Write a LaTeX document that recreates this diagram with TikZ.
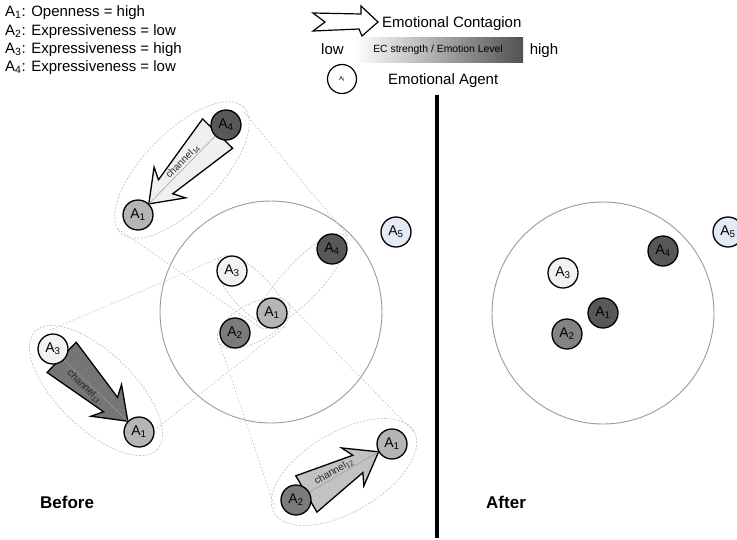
\documentclass[tikz,border=0pt]{standalone}
\usepackage{fontspec}
\setmainfont{Liberation Sans}
\usetikzlibrary{calc}
\definecolor{ellc}{HTML}{C4C4C4}
\definecolor{circc}{HTML}{9A9A9A}
\definecolor{gA}{HTML}{B5B5B5}
\definecolor{gB}{HTML}{7B7B7B}
\definecolor{gC}{HTML}{F2F2F2}
\definecolor{gD}{HTML}{585858}
\definecolor{gE}{HTML}{E4EAF5}
\definecolor{gF}{HTML}{838383}
\definecolor{chA}{HTML}{F0F0F0}
\definecolor{chB}{HTML}{757575}
\definecolor{chC}{HTML}{C2C2C2}
\tikzset{
  agent/.style={circle, draw=black, line width=1.3pt, minimum size=30pt, inner sep=0pt,
    font=\fontsize{14}{15}\selectfont},
  ell/.style={draw=ellc, line width=0.7pt, dash pattern=on 2pt off 1.5pt},
  proj/.style={draw=ellc, line width=0.7pt, dash pattern=on 1.5pt off 2pt},
  bigc/.style={draw=circc, line width=0.9pt},
  fatline/.style={draw=black, line width=1.3pt, line join=miter},
  chan/.style={draw=black!40, line width=0.5pt},
  chlab/.style={font=\fontsize{10}{11}\selectfont, text=black!85, inner sep=0.8pt},
  legtext/.style={font=\fontsize{15}{18}\selectfont, inner sep=0pt},
  bigtext/.style={font=\bfseries\fontsize{17}{20}\selectfont, inner sep=0pt}
}
\newcommand\fatarrow[6]{%
  \coordinate (fP) at ($(#2)!12pt!(#3)$);
  \coordinate (fQ) at ($(#3)!15.5pt!(#2)$);
  \coordinate (fN) at ($(fQ)!24pt!(fP)$);
  \coordinate (fB) at ($(fQ)!30pt!(fP)$);
  \draw[fatline, fill=#1] ($(fP)!21pt!90:(fQ)$) -- ($(fN)!10pt!90:(fQ)$) -- ($(fB)!22pt!90:(fQ)$)
    -- (fQ) -- ($(fB)!22pt!-90:(fQ)$) -- ($(fN)!10pt!-90:(fQ)$) -- ($(fP)!21pt!-90:(fQ)$) -- cycle;
  \draw[chan] (fP) -- (fQ) node[pos=#6, sloped, #5, chlab] (ch#4) {channel\textsubscript{#4}};
}
\begin{document}
\begin{tikzpicture}[x=1pt,y=-1pt]
\useasboundingbox[fill=white] (0,0) rectangle (737,539);

% legend text
\node[legtext, anchor=base west] (l1) at (5,16) {A\textsubscript{1}: Openness = high};
\node[legtext, anchor=base west] (l2) at (5,35) {A\textsubscript{2}: Expressiveness = low};
\node[legtext, anchor=base west] (l3) at (5,53) {A\textsubscript{3}: Expressiveness = high};
\node[legtext, anchor=base west] (l4) at (5,71) {A\textsubscript{4}: Expressiveness = low};

% legend arrow
\draw[line width=1.2pt, line join=miter, fill=white] (313,13) -- (361,14) -- (361,6) -- (378,22)
  -- (362,36) -- (359,29) -- (313,31) -- (325,22) -- cycle;
\node[legtext, anchor=base west] (lec) at (382,27) {Emotional Contagion};
\shade[left color=white, right color=black!68] (355,37) rectangle (523,62);
\node[font=\fontsize{10.4}{12}\selectfont, inner sep=0pt] (lbar) at (438,49.5) {EC strength / Emotion Level};
\node[legtext, anchor=base] (llow) at (332.5,54) {low};
\node[legtext, anchor=base] (lhigh) at (544,54) {high};
\node[circle, draw=black, line width=1.2pt, minimum size=29pt, inner sep=0pt,
  font=\fontsize{6}{6}\selectfont] (lag) at (342,79) {A\textsubscript{i}};
\node[legtext, anchor=base west] (lea) at (388,84) {Emotional Agent};

% divider
\draw[line width=3.5pt] (437,95) -- (437,538);
\node[bigtext, anchor=base west] (before) at (40,508) {Before};
\node[bigtext, anchor=base west] (after) at (486,508) {After};

% big circles
\draw[bigc] (271,312) circle [radius=111];
\draw[bigc] (603,313) circle [radius=111];

% positions
\coordinate (p4t) at (226,125); \coordinate (p1t) at (138,215);
\coordinate (p3l) at (53,349);  \coordinate (p1l) at (139,432);
\coordinate (p2b) at (296,500); \coordinate (p1b) at (392,444);

% small ellipses in circle
\draw[ell, rotate around={-46.4:(252,292)}] (252,292) ellipse [x radius=47, y radius=19];
\draw[ell, rotate around={46.8:(302,281)}] (302,281) ellipse [x radius=63, y radius=19];
\draw[ell, rotate around={28.4:(253.5,323)}] (253.5,323) ellipse [x radius=40, y radius=19];

% big ellipses
\draw[ell, rotate around={45.6:(182,170)}] (182,170) ellipse [x radius=88, y radius=38];
\draw[ell, rotate around={-44:(96,390.5)}] (96,390.5) ellipse [x radius=85, y radius=38];
\draw[ell, rotate around={30.3:(344,472)}] (344,472) ellipse [x radius=81, y radius=40];

% projection lines
\coordinate (t1a) at (244,112); \coordinate (t1b) at (348,236);
\coordinate (t2a) at (118,229); \coordinate (t2b) at (259,327);
\coordinate (l1a) at (50,330);  \coordinate (l1b) at (219,258);
\coordinate (l2a) at (157,428); \coordinate (l2b) at (285,327);
\coordinate (b1a) at (275,508); \coordinate (b1b) at (219,342);
\coordinate (b2a) at (413,431); \coordinate (b2b) at (289,304);
\draw[proj] (t1a) -- (t1b); \draw[proj] (t2a) -- (t2b);
\draw[proj] (l1a) -- (l1b); \draw[proj] (l2a) -- (l2b);
\draw[proj] (b1a) -- (b1b); \draw[proj] (b2a) -- (b2b);

% fat arrows
\fatarrow{chA}{p4t}{p1t}{14}{above}{0.45}
\fatarrow{chB}{p3l}{p1l}{13}{below}{0.4}
\fatarrow{chC}{p2b}{p1b}{12}{above}{0.42}

% agents outside
\node[agent, fill=gD] (a4t) at (p4t) {A\textsubscript{4}};
\node[agent, fill=gA] (a1t) at (p1t) {A\textsubscript{1}};
\node[agent, fill=gC] (a3l) at (p3l) {A\textsubscript{3}};
\node[agent, fill=gA] (a1l) at (p1l) {A\textsubscript{1}};
\node[agent, fill=gB] (a2b) at (p2b) {A\textsubscript{2}};
\node[agent, fill=gA] (a1b) at (p1b) {A\textsubscript{1}};

% agents before
\node[agent, fill=gC] (c3) at (232,271) {A\textsubscript{3}};
\node[agent, fill=gD] (c4) at (332,249) {A\textsubscript{4}};
\node[agent, fill=gA] (c1) at (272,313) {A\textsubscript{1}};
\node[agent, fill=gB] (c2) at (235,333) {A\textsubscript{2}};
\node[agent, fill=gE] (c5) at (396,232) {A\textsubscript{5}};

% agents after
\node[agent, fill=gC] (d3) at (563,273) {A\textsubscript{3}};
\node[agent, fill=gD] (d4) at (663,251) {A\textsubscript{4}};
\node[agent, fill=gD] (d1) at (603,313) {A\textsubscript{1}};
\node[agent, fill=gF] (d2) at (567,334) {A\textsubscript{2}};
\node[agent, fill=gE] (d5) at (728,232) {A\textsubscript{5}};
\end{tikzpicture}
\end{document}
